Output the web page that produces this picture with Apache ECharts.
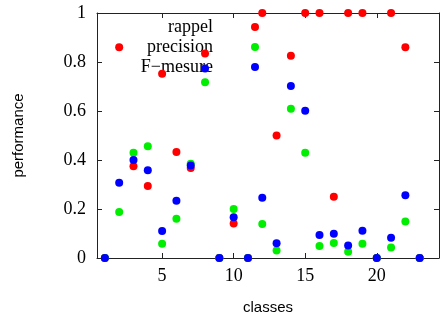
<!DOCTYPE html>
<html>
<head>
<meta charset="utf-8">
<script src="https://cdn.jsdelivr.net/npm/echarts@6/dist/echarts.min.js"></script>
<style>html,body{margin:0;padding:0;background:#fff}#c{width:444px;height:320px}</style>
</head>
<body>
<div id="c"></div>
<script>
const classes = [1,2,3,4,5,6,7,8,9,10,11,12,13,14,15,16,17,18,19,20,21,22,23];
const rappel = [0,0.86,0.375,0.294,0.752,0.433,0.367,0.835,0,0.141,0,1,0.5,0.826,1,1,0.25,1,1,0,1,0.86,0];
const precision = [0,0.188,0.43,0.456,0.058,0.16,0.385,0.717,0,0.2,0,0.139,0.031,0.609,0.43,0.049,0.061,0.026,0.058,0,0.043,0.149,0];
const fmesure = [0,0.307,0.40,0.358,0.11,0.234,0.378,0.773,0,0.166,0,0.246,0.06,0.702,0.601,0.094,0.099,0.051,0.111,0,0.083,0.256,0];
const xTicks = [5,10,15,20];
const yTicks = [0,0.2,0.4,0.6,0.8,1];
const seriesNames = ['rappel','precision','F\u2212mesure'];
const colors = ['#ff0000','#00ee00','#0000ff'];

const pair = arr => classes.map((c,i)=>[c,arr[i]]);
const frame = {lineStyle:{color:'#222',width:1}};
const serif = 'Liberation Serif';
const chart = echarts.init(document.getElementById('c'), null, {renderer:'canvas'});
chart.setOption({
  animation:false,
  grid:{left:97,right:5,top:13,bottom:62},
  legend:{
    data:seriesNames, orient:'vertical', align:'right', right:185, top:18, padding:0,
    itemGap:2, itemWidth:8, itemHeight:8, icon:'circle', z:1,
    textStyle:{fontFamily:serif,fontSize:18,color:'#000',padding:[0,33,0,0]}
  },
  xAxis:[
    {type:'value',min:0.45,max:24.35,position:'bottom',
     axisLine:{show:true,onZero:false,...frame},
     axisTick:{show:true,inside:true,length:5,customValues:xTicks,lineStyle:{color:'#222'}},
     axisLabel:{customValues:xTicks,fontFamily:serif,fontSize:18,color:'#000',margin:9},
     splitLine:{show:false},
     name:'classes',nameLocation:'middle',nameGap:42,
     nameTextStyle:{fontFamily:'Liberation Sans',fontSize:15,color:'#000'}},
    {type:'value',min:0.45,max:24.35,position:'top',
     axisLine:{show:true,onZero:false,...frame},
     axisTick:{show:true,inside:true,length:5,customValues:xTicks,lineStyle:{color:'#222'}},
     axisLabel:{show:false},splitLine:{show:false}}
  ],
  yAxis:[
    {type:'value',min:0,max:1,interval:0.2,position:'left',
     axisLine:{show:true,onZero:false,...frame},
     axisTick:{show:true,inside:true,length:5,lineStyle:{color:'#222'}},
     axisLabel:{fontFamily:serif,fontSize:18,color:'#000',margin:11},
     splitLine:{show:false},
     name:'performance',nameLocation:'middle',nameGap:71,
     nameTextStyle:{fontFamily:'Liberation Sans',fontSize:15,color:'#000'}},
    {type:'value',min:0,max:1,interval:0.2,position:'right',
     axisLine:{show:true,onZero:false,...frame},
     axisTick:{show:true,inside:true,length:5,lineStyle:{color:'#222'}},
     axisLabel:{show:false},splitLine:{show:false}}
  ],
  series:[rappel,precision,fmesure].map((arr,i)=>({
    name:seriesNames[i],type:'scatter',data:pair(arr),symbol:'circle',symbolSize:8,
    clip:false,itemStyle:{color:colors[i],opacity:1},z:2+i
  }))
});
</script>
</body>
</html>
